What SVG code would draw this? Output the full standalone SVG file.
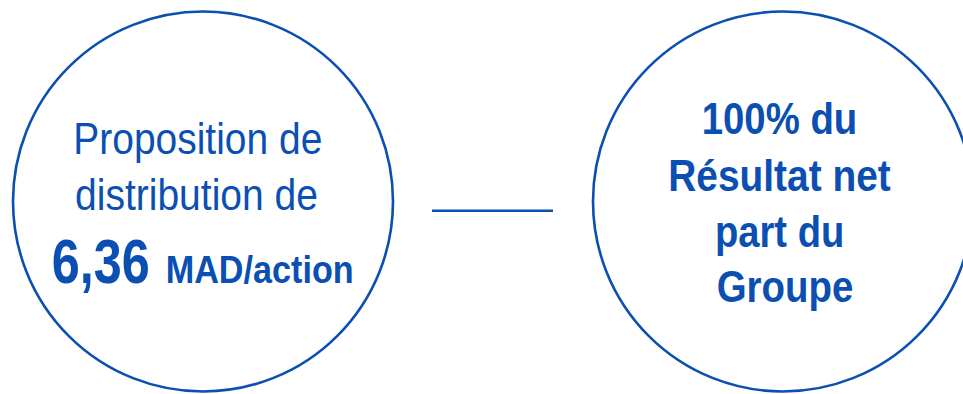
<svg xmlns="http://www.w3.org/2000/svg" width="963" height="394" viewBox="0 0 963 394">
<style>
.c{fill:none;stroke:#0b4fb3;stroke-width:2.6}
.t{fill:#0b4fb3;font-family:"Liberation Sans",Arial,sans-serif}
.r{font-size:44px}
.b{font-weight:bold}
</style>
<rect width="963" height="394" fill="#ffffff"/>
<g id="connectors">
<line x1="432" y1="210.7" x2="553" y2="210.7" stroke="#0b4fb3" stroke-width="2.6"/>
</g>
<g id="node-left">
<circle class="c" cx="203" cy="201.5" r="190"/>
<text class="t r" x="73.3" y="154" textLength="249" lengthAdjust="spacingAndGlyphs">Proposition de</text>
<text class="t r" x="75" y="210" textLength="243" lengthAdjust="spacingAndGlyphs">distribution de</text>
<text class="t b" x="51.7" y="283" font-size="63" textLength="98" lengthAdjust="spacingAndGlyphs">6,36</text>
<text class="t b" x="165.7" y="283" font-size="39" textLength="188" lengthAdjust="spacingAndGlyphs">MAD/action</text>
</g>
<g id="node-right">
<circle class="c" cx="783" cy="201.5" r="190"/>
<text class="t b" x="701.7" y="134" font-size="45" textLength="155.6" lengthAdjust="spacingAndGlyphs">100% du</text>
<text class="t b" x="668.3" y="191" font-size="45" textLength="222.4" lengthAdjust="spacingAndGlyphs">Résultat net</text>
<text class="t b" x="715" y="247" font-size="45" textLength="129.3" lengthAdjust="spacingAndGlyphs">part du</text>
<text class="t b" x="716.7" y="302" font-size="45" textLength="136.6" lengthAdjust="spacingAndGlyphs">Groupe</text>
</g>
</svg>
